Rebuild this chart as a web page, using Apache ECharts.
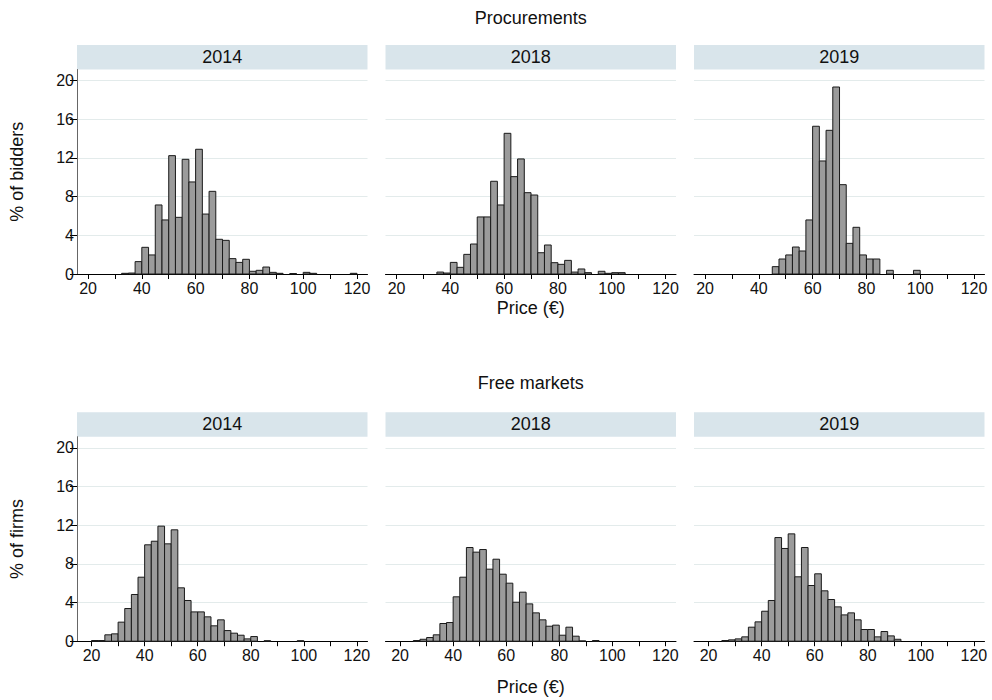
<!DOCTYPE html>
<html>
<head>
<meta charset="utf-8">
<script src="https://cdn.jsdelivr.net/npm/echarts@6/dist/echarts.min.js"></script>
<style>
html,body{margin:0;padding:0;background:#fff;}
#chart{width:992px;height:700px;}
</style>
</head>
<body>
<div id="chart"></div>
<script>
// ---- data ----
const years = ['2014', '2018', '2019'];
const rowTitles = ['Procurements', 'Free markets'];
const yTitles = ['% of bidders', '% of firms'];
const xTitle = 'Price (€)';
const binWidth = 2.5;
const xMajorTicks = [20, 40, 60, 80, 100, 120];
const xMinorTicks = [20, 30, 40, 50, 60, 70, 80, 90, 100, 110, 120];
const yTicks = [0, 4, 8, 12, 16, 20];

// Procurements (% of bidders)
const proc2014Start = 32.5;
const proc2014 = [0.07, 0.1, 1.28, 2.76, 1.97, 7.14, 5.59, 12.24, 5.86, 11.86, 9.52, 12.9, 6.2, 8.55, 3.59, 3.48, 1.59, 1.2, 1.52, 0.28, 0.38, 0.72, 0.17, 0.07, 0, 0.05, 0, 0.17, 0.07, 0, 0, 0, 0, 0, 0.07];
const proc2018Start = 35;
const proc2018 = [0.2, 0.1, 1.2, 0.69, 2.03, 3.1, 5.9, 5.9, 9.59, 7.14, 14.55, 10.07, 11.9, 8.41, 8.17, 2.2, 3.0, 1.17, 1.0, 1.41, 0.2, 0.52, 0.14, 0, 0.28, 0.07, 0.14, 0.14];
const proc2019Start = 45;
const proc2019 = [0.76, 1.55, 1.97, 2.79, 2.38, 5.59, 15.28, 11.69, 14.86, 19.34, 9.24, 3.17, 4.83, 1.97, 1.55, 1.55, 0, 0.38, 0, 0, 0, 0.38];

// Free markets (% of firms)
const free2014Start = 20;
const free2014 = [0.07, 0.07, 0.66, 0.76, 1.97, 3.38, 4.83, 6.62, 9.97, 10.34, 11.9, 10.07, 11.52, 5.52, 4.21, 3.03, 3.03, 2.52, 1.59, 2.21, 1.1, 0.83, 0.62, 0.24, 0.48, 0, 0.05, 0, 0, 0, 0, 0.05];
const free2018Start = 25;
const free2018 = [0.07, 0.2, 0.38, 0.66, 1.83, 1.93, 4.59, 6.62, 9.69, 9.21, 9.48, 7.45, 8.48, 6.93, 6.0, 4.03, 5.07, 3.86, 2.93, 2.21, 1.55, 1.66, 0.62, 1.45, 0.52, 0.03, 0, 0.07];
const free2019Start = 25;
const free2019 = [0.07, 0.14, 0.24, 0.45, 1.45, 2.0, 3.1, 4.21, 10.72, 9.59, 11.1, 6.66, 9.69, 5.76, 6.97, 5.21, 4.31, 3.55, 2.72, 2.93, 2.21, 1.21, 1.21, 0.45, 1.0, 0.55, 0.2];

const panels = [
  {start: proc2014Start, values: proc2014, row: 0, col: 0},
  {start: proc2018Start, values: proc2018, row: 0, col: 1},
  {start: proc2019Start, values: proc2019, row: 0, col: 2},
  {start: free2014Start, values: free2014, row: 1, col: 0},
  {start: free2018Start, values: free2018, row: 1, col: 1},
  {start: free2019Start, values: free2019, row: 1, col: 2}
];

// ---- layout ----
const FONT = "'Liberation Sans', Arial, Helvetica, sans-serif";
const colLeft = [77, 385.5, 694];
const colWidth = 290.5;
const rowTop = [69.5, 436.7];
const rowHeight = [204.5, 204.5];
const stripH = 24.5;
const xRange = [[15.9, 123.9], [14.5, 124]];
const yMax = 21.15;
const rowTitleY = [18, 383];
const xTitleY = [308, 687];

const chart = echarts.init(document.getElementById('chart'), null, {renderer: 'svg'});

const grids = [], xAxes = [], yAxes = [], series = [], graphics = [];
panels.forEach((p, i) => {
  grids.push({left: colLeft[p.col], top: rowTop[p.row], width: colWidth, height: rowHeight[p.row], containLabel: false});
  xAxes.push({
    type: 'value', gridIndex: i, min: xRange[p.row][0], max: xRange[p.row][1],
    axisLine: {show: true, onZero: false, lineStyle: {color: '#000', width: 1}},
    axisTick: {show: true, customValues: xMinorTicks, length: 5, lineStyle: {color: '#000'}},
    axisLabel: {show: true, customValues: xMajorTicks, fontSize: 16, color: '#111', fontFamily: FONT, margin: 6},
    splitLine: {show: false}
  });
  const first = p.col === 0;
  yAxes.push({
    type: 'value', gridIndex: i, min: 0, max: yMax,
    axisLine: {show: first, lineStyle: {color: '#666', width: 1}},
    axisTick: {show: first, customValues: yTicks, length: 7, lineStyle: {color: '#000'}},
    axisLabel: {show: first, customValues: yTicks, fontSize: 16, color: '#111', fontFamily: FONT, margin: 3},
    splitLine: {show: true, lineStyle: {color: '#e3ebeb', width: 1}}
  });
  const data = p.values.map((v, k) => [p.start + k * binWidth, p.start + (k + 1) * binWidth, v]);
  series.push({
    type: 'custom', xAxisIndex: i, yAxisIndex: i, data: data,
    renderItem: function (params, api) {
      const y = api.value(2);
      if (!(y > 0)) return null;
      const a = api.coord([api.value(0), y]);
      const b = api.coord([api.value(1), 0]);
      return {
        type: 'rect',
        shape: {x: a[0], y: a[1], width: b[0] - a[0], height: b[1] - a[1]},
        style: {fill: '#9b9b9b', stroke: '#1a1a1a', lineWidth: 1}
      };
    }
  });
  // strip header
  graphics.push({
    type: 'rect',
    shape: {x: colLeft[p.col], y: rowTop[p.row] - stripH, width: colWidth, height: stripH},
    style: {fill: '#d9e5eb'}
  });
  graphics.push({
    type: 'text',
    x: colLeft[p.col] + colWidth / 2, y: rowTop[p.row] - stripH / 2,
    style: {text: years[p.col], fill: '#111', fontSize: 18, fontFamily: FONT, align: 'center', verticalAlign: 'middle'}
  });
});

const centerX = (colLeft[0] + colLeft[2] + colWidth) / 2;
[0, 1].forEach(r => {
  graphics.push({
    type: 'text', x: centerX, y: rowTitleY[r],
    style: {text: rowTitles[r], fill: '#111', fontSize: 18, fontFamily: FONT, align: 'center', verticalAlign: 'middle'}
  });
  graphics.push({
    type: 'text', x: colLeft[1] + colWidth / 2, y: xTitleY[r],
    style: {text: xTitle, fill: '#111', fontSize: 18, fontFamily: FONT, align: 'center', verticalAlign: 'middle'}
  });
  graphics.push({
    type: 'text', x: 17, y: rowTop[r] + rowHeight[r] / 2, rotation: Math.PI / 2,
    style: {text: yTitles[r], fill: '#111', fontSize: 18, fontFamily: FONT, align: 'center', verticalAlign: 'middle'}
  });
});

chart.setOption({
  animation: false,
  backgroundColor: '#fff',
  grid: grids,
  xAxis: xAxes,
  yAxis: yAxes,
  series: series,
  graphic: graphics
});
</script>
</body>
</html>
